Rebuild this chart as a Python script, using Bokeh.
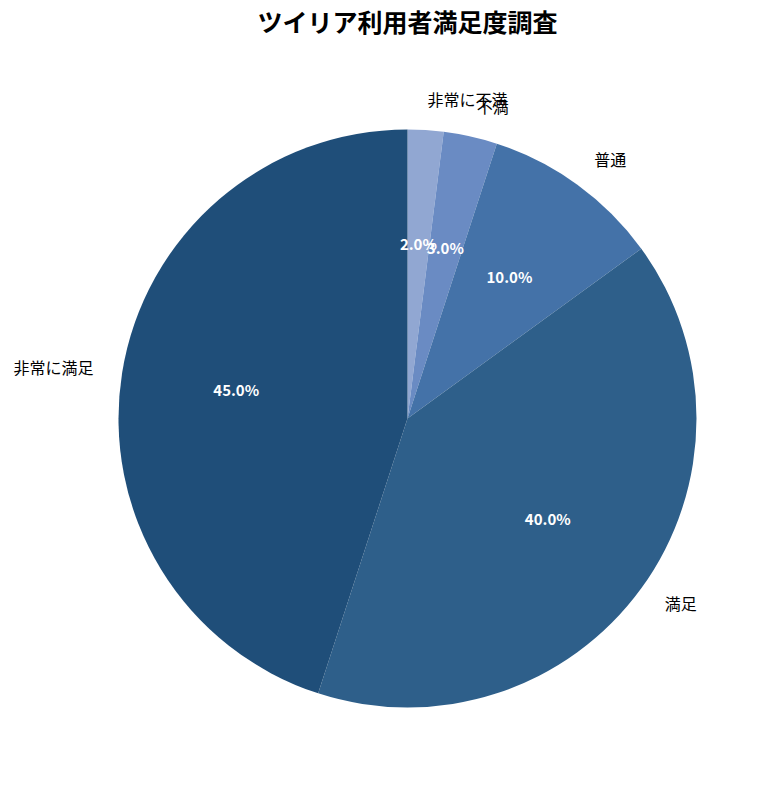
import numpy as np
from bokeh.plotting import figure
from bokeh.models import Range1d, ColumnDataSource
from bokeh.core.properties import value
from bokeh.embed import file_html
from bokeh.resources import INLINE

title = "ツイリア利用者満足度調査"
labels = ["非常に不満", "不満", "普通", "満足", "非常に満足"]
sizes = [2, 3, 10, 40, 45]
colors = ["#91a7d2", "#6a8bc3", "#4472a8", "#2e5f8a", "#1f4e79"]

W, H = 771, 782
cx, cy, R = 407, H - 418, 289

vals = np.array(sizes, dtype=float)
frac = vals / vals.sum()
ends = np.pi / 2 - 2 * np.pi * np.cumsum(frac)
starts = np.concatenate([[np.pi / 2], ends[:-1]])
mids = (starts + ends) / 2

p = figure(width=W, height=H, output_backend="svg", toolbar_location=None,
           x_range=Range1d(0, W), y_range=Range1d(0, H), min_border=0)
p.axis.visible = False
p.grid.visible = False
p.outline_line_color = None
p.background_fill_color = "white"

src = ColumnDataSource(dict(start=starts, end=ends, color=colors))
p.wedge(x=cx, y=cy, radius=R, start_angle="end", end_angle="start",
        fill_color="color", line_color=None, source=src)

# outer labels
lx = cx + 1.1 * R * np.cos(mids)
ly = cy + 1.1 * R * np.sin(mids)
align = ["left" if np.cos(m) >= 0 else "right" for m in mids]
p.text(x=lx, y=ly, text=labels, text_align=align, text_baseline="middle", y_offset=-2,
       text_font=value("Noto Sans CJK JP"), text_font_size="16px", text_color="black")

# percentage labels
px = cx + 0.6 * R * np.cos(mids)
py = cy + 0.6 * R * np.sin(mids)
pct = [f"{f * 100:.1f}%" for f in frac]
p.text(x=px, y=py, text=pct, text_align="center", text_baseline="middle", y_offset=-2,
       text_font=value("Noto Sans CJK JP"), text_font_size="15px",
       text_font_style="bold", text_color="white")

p.text(x=[407], y=[H - 20], text=[title], text_align="center", text_baseline="middle",
       text_font=value("Noto Sans CJK JP"), text_font_size="25px",
       text_font_style="bold", text_color="black")

open("out.html", "w").write(file_html(p, INLINE))
